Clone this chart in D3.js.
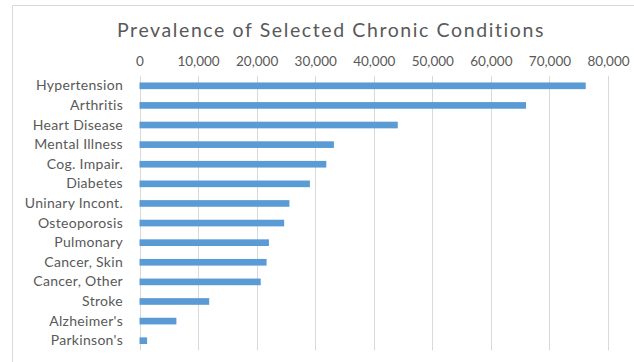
<!DOCTYPE html>
<html>
<head>
<meta charset="utf-8">
<script src="https://cdn.jsdelivr.net/npm/d3@7"></script>
<style>
  html, body { margin: 0; padding: 0; background: #fff; }
  svg { display: block; }
  text { font-family: Lato, "Open Sans", sans-serif; fill: #595959; }
</style>
</head>
<body>
<svg id="chart" width="634" height="362"></svg>
<script>
// Chronic conditions, ordered from most to least prevalent
const conditions = [
  "Hypertension", "Arthritis", "Heart Disease", "Mental Illness", "Cog. Impair.",
  "Diabetes", "Uninary Incont.", "Osteoporosis", "Pulmonary", "Cancer, Skin",
  "Cancer, Other", "Stroke", "Alzheimer's", "Parkinson's"
];
const prevalence = [
  76200, 66000, 44100, 33200, 31900,
  29100, 25600, 24700, 22100, 21700,
  20700, 11900, 6300, 1300
];
const tickValues = [0, 10000, 20000, 30000, 40000, 50000, 60000, 70000, 80000];
const titleText = "Prevalence of Selected Chronic Conditions";

const svg = d3.select("#chart");
const W = 634, H = 362;
const plot = { left: 139.5, right: 608, top: 76, bottom: 350.5 };

// chart frame
svg.append("rect")
  .attr("x", 12.5).attr("y", 5.5)
  .attr("width", W).attr("height", H)
  .attr("fill", "#fff").attr("stroke", "#d9d9d9").attr("stroke-width", 1);

const x = d3.scaleLinear().domain([0, 80000]).range([plot.left, plot.right]);
const y = d3.scaleBand().domain(conditions).range([plot.top, plot.bottom]).paddingInner(0.66).paddingOuter(0.33);

// vertical gridlines
svg.append("g")
  .selectAll("line")
  .data(tickValues)
  .join("line")
  .attr("x1", d => Math.round(x(d)) + 0.5)
  .attr("x2", d => Math.round(x(d)) + 0.5)
  .attr("y1", plot.top)
  .attr("y2", plot.bottom)
  .attr("stroke", "#d9d9d9")
  .attr("stroke-width", 1);

// value axis along the top
const xAxis = d3.axisTop(x)
  .tickValues(tickValues)
  .tickFormat(d3.format(","))
  .tickSize(0)
  .tickPadding(0);
const gx = svg.append("g").attr("transform", `translate(0, 66)`).call(xAxis);
gx.select(".domain").remove();
gx.selectAll("text")
  .attr("font-size", "13.5px")
  .attr("font-family", "Lato, sans-serif")
  .attr("fill", "#595959")
  .attr("dy", 0);

// category axis
const yAxis = d3.axisLeft(y).tickSize(0).tickPadding(0);
const gy = svg.append("g").attr("transform", `translate(123, 0)`).call(yAxis);
gy.select(".domain").remove();
gy.selectAll("text")
  .attr("font-size", "14px")
  .attr("letter-spacing", "0.3px")
  .attr("font-family", "Lato, sans-serif")
  .attr("fill", "#595959");

// bars
svg.append("g")
  .selectAll("rect")
  .data(conditions.map((c, i) => ({ c, v: prevalence[i] })))
  .join("rect")
  .attr("x", x(0))
  .attr("y", d => y(d.c))
  .attr("width", d => x(d.v) - x(0))
  .attr("height", y.bandwidth())
  .attr("fill", "#5b9bd5");

// title
svg.append("text")
  .attr("x", 331)
  .attr("y", 37)
  .attr("text-anchor", "middle")
  .attr("font-size", "19.5px")
  .attr("letter-spacing", "1.6px")
  .attr("fill", "#595959")
  .text(titleText);
</script>
</body>
</html>
